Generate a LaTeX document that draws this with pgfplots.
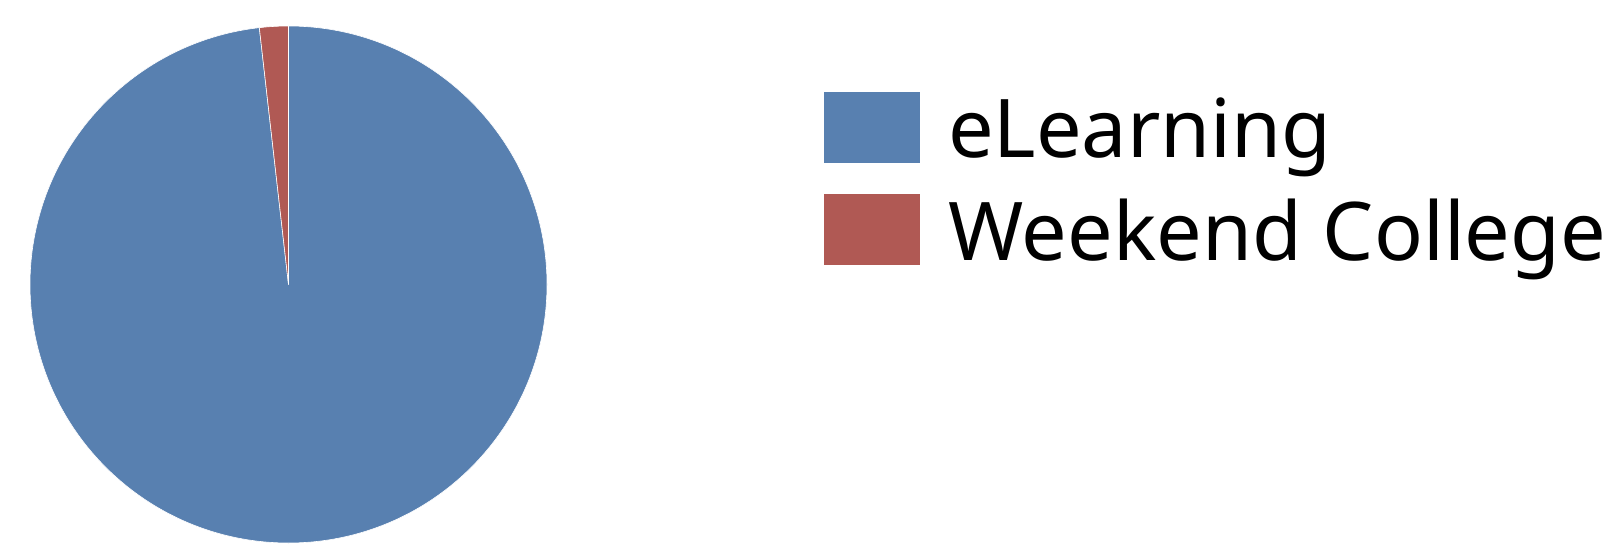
\documentclass[border=0pt]{standalone}
\usepackage{fontspec}
\setmainfont{Noto Sans}
\usepackage{pgfplots}
\usepackage{pgfplotstable}
\pgfplotsset{compat=1.18}

\definecolor{cBlue}{RGB}{88,128,176}
\definecolor{cRed}{RGB}{176,89,84}

% share of each mode of study
\pgfplotstableread{
label value
eLearning 98.2
Weekend 1.8
}\datatable

\begin{document}
\begin{tikzpicture}
\pgfplotstablegetelem{0}{value}\of\datatable \let\vA\pgfplotsretval
\pgfplotstablegetelem{1}{value}\of\datatable \let\vB\pgfplotsretval
\pgfmathsetmacro{\aStart}{90}
\pgfmathsetmacro{\aMid}{90-360*(\vA/(\vA+\vB))}
\pgfmathsetmacro{\aEnd}{\aMid-360*(\vB/(\vA+\vB))}
\begin{axis}[
    scale only axis,
    width=811pt, height=273.5pt,
    xmin=0, xmax=1622, ymin=0, ymax=547,
    hide axis, clip=false,
    legend image code/.code={\fill[#1] (0pt,-10pt) rectangle (48pt,25.5pt);},
    legend cell align=left,
    legend style={draw=none, fill=none, inner sep=0pt, outer sep=0pt,
        at={(axis cs:824,455)}, anchor=north west,
        font=\fontsize{40.5}{51}\selectfont,
        row sep=0.2pt, column sep=14pt,
        nodes={inner sep=0pt, text height=33pt, text depth=18pt}},
]
\path (axis cs:0,0) rectangle (axis cs:1622,547);
% pie slices, clockwise from 12 o'clock
\fill[cBlue, draw=white, line width=0.3pt] (axis cs:288.5,262.5) -- ++(\aStart:129.25pt)
    arc[start angle=\aStart, end angle=\aMid, radius=129.25pt] -- cycle;
\fill[cRed, draw=white, line width=0.3pt] (axis cs:288.5,262.5) -- ++(\aMid:129.25pt)
    arc[start angle=\aMid, end angle=\aEnd, radius=129.25pt] -- cycle;
\addlegendimage{fill=cBlue, draw=none}
\addlegendentry{eLearning}
\addlegendimage{fill=cRed, draw=none}
\addlegendentry{Weekend College}
\end{axis}
\end{tikzpicture}
\end{document}
